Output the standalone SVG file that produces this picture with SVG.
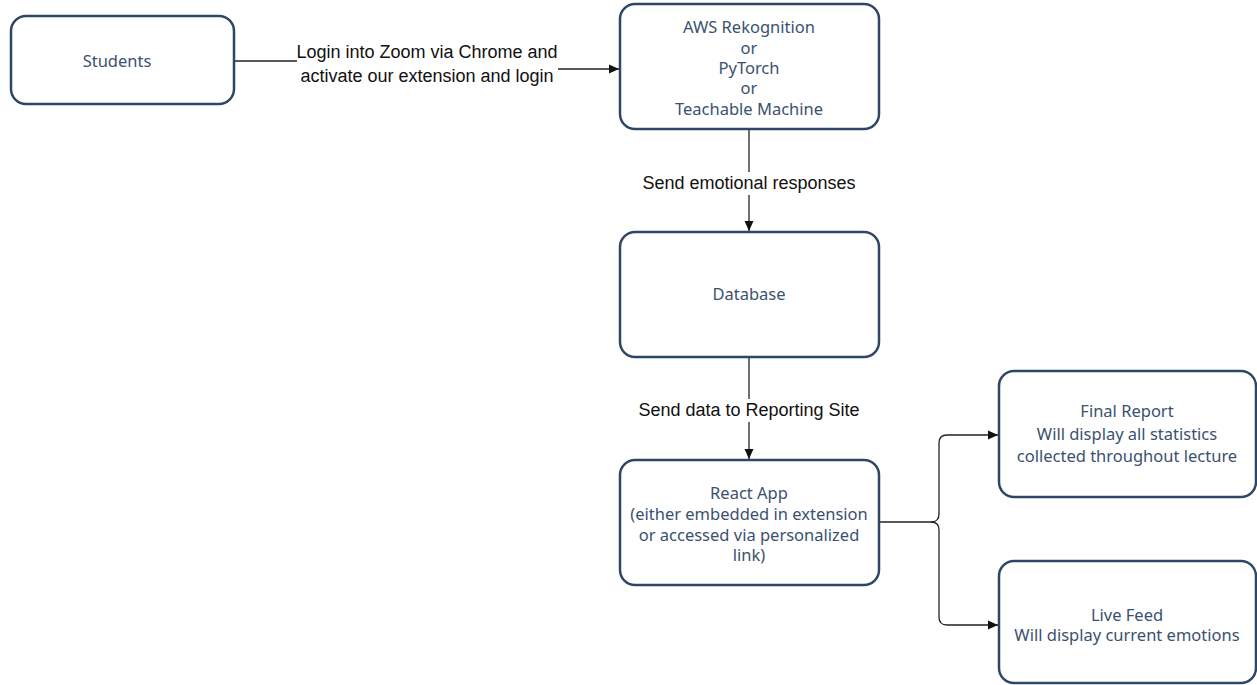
<svg xmlns="http://www.w3.org/2000/svg" width="1257" height="685" viewBox="0 0 1257 685">
<style>
.node rect{fill:#fff;stroke:#2f4765;stroke-width:2.5}
.node text{font-family:"Noto Sans",Lato,sans-serif;font-size:16.5px;fill:#3a5170;text-anchor:middle}
.edge{fill:none;stroke:#222;stroke-width:1.3}
.lbl{font-family:"Liberation Sans",Arial,sans-serif;font-size:18px;fill:#111;text-anchor:middle}
.lblbg{fill:#fff}
</style>
<defs>
<marker id="arr" viewBox="0 0 10 10" refX="10" refY="5" markerWidth="10" markerHeight="10" markerUnits="userSpaceOnUse" orient="auto">
<path d="M0,0.5 L10,5 L0,9.5 Z" fill="#111"/>
</marker>
</defs>
<rect width="1257" height="685" fill="#fff"/>
<g id="connectors">
<path class="edge" d="M234,61 H420 V69 H619" marker-end="url(#arr)"/>
<rect class="lblbg" x="297" y="39" width="261" height="48"/>
<text class="lbl" x="427" y="58">Login into Zoom via Chrome and</text>
<text class="lbl" x="427" y="82">activate our extension and login</text>
<path class="edge" d="M749,129 V231" marker-end="url(#arr)"/>
<rect class="lblbg" x="638" y="172" width="222" height="23"/>
<text class="lbl" x="749" y="189">Send emotional responses</text>
<path class="edge" d="M749,357 V459" marker-end="url(#arr)"/>
<rect class="lblbg" x="634" y="399" width="230" height="23"/>
<text class="lbl" x="749" y="416">Send data to Reporting Site</text>
<path class="edge" d="M879,522 H931 Q939,522 939,514 V443 Q939,435 947,435 H998" marker-end="url(#arr)"/>
<path class="edge" d="M931,522 Q939,522 939,530 V617 Q939,625 947,625 H998" marker-end="url(#arr)"/>
</g>
<g id="students" class="node">
<rect x="11" y="16" width="223" height="88" rx="15"/>
<text x="117" y="67">Students</text>
</g>
<g id="aws" class="node">
<rect x="620" y="4" width="259" height="125" rx="15"/>
<text x="749" y="33">AWS Rekognition</text>
<text x="749" y="54">or</text>
<text x="749" y="74">PyTorch</text>
<text x="749" y="94">or</text>
<text x="749" y="115">Teachable Machine</text>
</g>
<g id="database" class="node">
<rect x="620" y="232" width="259" height="125" rx="15"/>
<text x="749" y="300">Database</text>
</g>
<g id="react" class="node">
<rect x="620" y="460" width="259" height="125" rx="15"/>
<text x="749" y="499">React App</text>
<text x="749" y="520">(either embedded in extension</text>
<text x="749" y="541">or accessed via personalized</text>
<text x="749" y="561">link)</text>
</g>
<g id="final-report" class="node">
<rect x="999" y="371" width="257" height="126" rx="15"/>
<text x="1127" y="417">Final Report</text>
<text x="1127" y="440">Will display all statistics</text>
<text x="1127" y="462">collected throughout lecture</text>
</g>
<g id="live-feed" class="node">
<rect x="999" y="561" width="257" height="122" rx="15"/>
<text x="1127" y="621">Live Feed</text>
<text x="1127" y="641">Will display current emotions</text>
</g>
</svg>
